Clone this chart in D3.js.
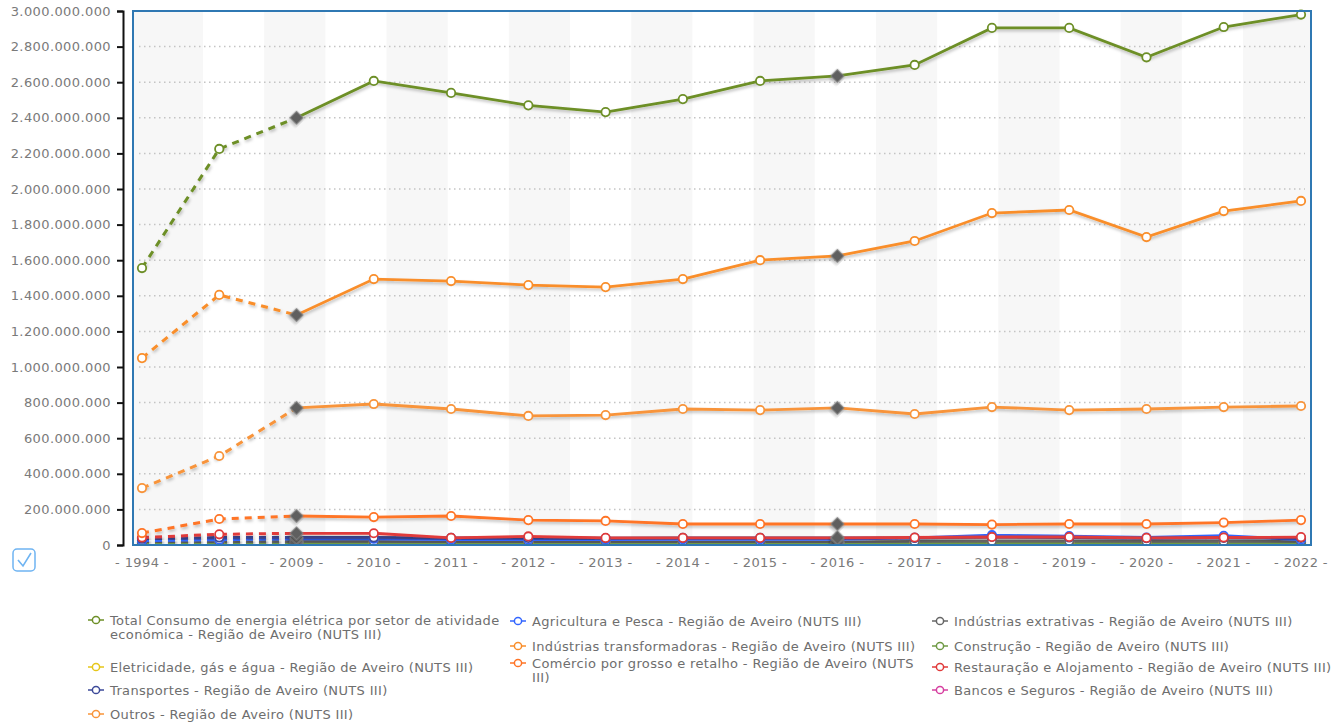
<!DOCTYPE html>
<html><head><meta charset="utf-8">
<script src="https://cdn.jsdelivr.net/npm/d3@7/dist/d3.min.js"></script>
<style>body{margin:0;background:#fff;}svg{display:block;font-family:"DejaVu Sans",Verdana,sans-serif;}</style>
</head><body>
<svg id="c" width="1334" height="725"></svg>
<script>
const years = ["1994","2001","2009","2010","2011","2012","2013","2014","2015","2016","2017","2018","2019","2020","2021","2022"];
const yTicks = [0,200e6,400e6,600e6,800e6,1000e6,1200e6,1400e6,1600e6,1800e6,2000e6,2200e6,2400e6,2600e6,2800e6,3000e6];
const breakYears = ["2009","2016"];

const seriesNames = [
  "Total Consumo de energia elétrica por setor de atividade económica - Região de Aveiro (NUTS III)",
  "Agricultura e Pesca - Região de Aveiro (NUTS III)",
  "Indústrias extrativas - Região de Aveiro (NUTS III)",
  "Indústrias transformadoras - Região de Aveiro (NUTS III)",
  "Construção - Região de Aveiro (NUTS III)",
  "Eletricidade, gás e água - Região de Aveiro (NUTS III)",
  "Comércio por grosso e retalho - Região de Aveiro (NUTS III)",
  "Restauração e Alojamento - Região de Aveiro (NUTS III)",
  "Transportes - Região de Aveiro (NUTS III)",
  "Bancos e Seguros - Região de Aveiro (NUTS III)",
  "Outros - Região de Aveiro (NUTS III)"
];
const seriesColors = ["#6d8f27","#3366ff","#666666","#f98e2b","#6f9a45","#e6c619","#ff7426","#e03a3a","#3d4a99","#d63fa0","#f8943a"];

const total        = [1556,2225,2400,2607,2540,2470,2432,2505,2607,2635,2697,2905,2905,2740,2910,2980];
const agricultura  = [25,30,35,35,30,30,30,32,32,32,40,55,50,42,52,30];
const extrativas   = [15,18,20,20,18,18,18,18,18,18,20,22,22,20,20,20];
const transform    = [1050,1405,1292,1494,1483,1460,1449,1494,1600,1624,1708,1865,1882,1730,1876,1933];
const construcao   = [10,12,14,14,12,12,12,12,12,12,12,13,13,12,12,12];
const eletricidade = [5,6,10,10,10,10,10,10,10,10,10,10,10,10,10,10];
const comercio     = [67,146,163,157,163,140,135,118,118,118,118,115,118,118,126,140];
const restauracao  = [42,60,66,66,40,48,40,40,40,40,42,45,45,40,42,44];
const transportes  = [35,42,42,42,40,40,38,40,40,40,40,45,42,38,40,40];
const bancos       = [12,15,18,18,15,15,15,15,15,15,15,15,15,15,15,15];
const outros       = [320,500,770,792,764,725,730,764,758,770,736,775,758,764,775,781];
const seriesValues = [total,agricultura,extrativas,transform,construcao,eletricidade,comercio,restauracao,transportes,bancos,outros];
const UNIT = 1e6;

const svg = d3.select("#c");
const X0=133, X1=1311, Y0=11, Y1=545;
const x = d3.scalePoint().domain(years).range([X0+9, X1-10]);
const y = d3.scaleLinear().domain([0,3000e6]).range([Y1, Y0]);
const loc = d3.formatLocale({decimal:",",thousands:".",grouping:[3],currency:["","€"]});
const fmt = loc.format(",.0f");

const defs = svg.append("defs");
const f = defs.append("filter").attr("id","sh").attr("x","-20%").attr("y","-20%").attr("width","140%").attr("height","160%");
f.append("feDropShadow").attr("dx",1).attr("dy",2).attr("stdDeviation",1.5).attr("flood-color","#000").attr("flood-opacity",0.25);
defs.append("clipPath").attr("id","clip").append("rect").attr("x",X0).attr("y",Y0-6).attr("width",X1-X0).attr("height",Y1-Y0+6);

// plot background stripes
const pw = X1-X0;
const firstB = 70/1178*pw, lastB = 1110/1178*pw;
const nMid = 17, sw = (lastB-firstB)/nMid;
const bounds = [0, firstB];
for(let i=1;i<=nMid;i++) bounds.push(firstB+i*sw);
bounds.push(pw);
const bg = svg.append("g");
bg.append("rect").attr("x",X0).attr("y",Y0).attr("width",pw).attr("height",Y1-Y0).attr("fill","#fff");
for(let i=0;i<bounds.length-1;i++){
  if(i%2===0) bg.append("rect").attr("x",X0+bounds[i]).attr("y",Y0).attr("width",bounds[i+1]-bounds[i]).attr("height",Y1-Y0).attr("fill","#f7f7f7");
}
// grid
svg.append("g").selectAll("line").data(yTicks.filter(t=>t>0&&t<3000e6)).join("line")
  .attr("x1",X0+6).attr("x2",X1-6).attr("y1",d=>y(d)).attr("y2",d=>y(d))
  .attr("stroke","#c4c4c4").attr("stroke-width",1.5).attr("stroke-dasharray","1.5,3.5");

// y axis
const ya = svg.append("g").attr("transform",`translate(${123},0)`)
  .call(d3.axisLeft(y).tickValues(yTicks).tickFormat(fmt).tickSize(6).tickPadding(6));
ya.select(".domain").attr("stroke","#111").attr("stroke-width",2);
ya.selectAll(".tick line").attr("stroke","#111").attr("stroke-width",2);
ya.selectAll("text").attr("fill","#7a7a7a").attr("font-size",13).attr("letter-spacing",0.4).attr("font-family","DejaVu Sans, Verdana, sans-serif");

// x axis labels
svg.append("g").selectAll("text").data(years).join("text")
  .attr("x",d=>x(d)).attr("y",567).attr("text-anchor","middle").attr("letter-spacing",0.4)
  .attr("fill","#7a7a7a").attr("font-size",13).text(d=>"- "+d+" -");

// lines
const g = svg.append("g").attr("clip-path","url(#clip)");
const line = d3.line().x(d=>x(d.year)).y(d=>y(d.v*UNIT));
const dashIdx = years.indexOf("2009");
const order = [9,5,4,2,1,8,7,6,10,3,0];
order.forEach(si=>{
  const pts = years.map((yr,i)=>({year:yr, v:seriesValues[si][i]}));
  const sg = g.append("g").attr("filter","url(#sh)");
  sg.append("path").datum(pts.slice(0,dashIdx+1)).attr("d",line).attr("fill","none")
    .attr("stroke",seriesColors[si]).attr("stroke-width",3).attr("stroke-dasharray","7,6");
  sg.append("path").datum(pts.slice(dashIdx)).attr("d",line).attr("fill","none")
    .attr("stroke",seriesColors[si]).attr("stroke-width",2.8);
});
order.forEach(si=>{
  const pts = years.map((yr,i)=>({year:yr, v:seriesValues[si][i]}));
  const mg = g.append("g");
  mg.selectAll("circle").data(pts.filter(p=>!breakYears.includes(p.year))).join("circle")
    .attr("cx",d=>x(d.year)).attr("cy",d=>y(d.v*UNIT)).attr("r",4.2)
    .attr("fill","#fff").attr("stroke",seriesColors[si]).attr("stroke-width",1.8);
  mg.selectAll("path").data(pts.filter(p=>breakYears.includes(p.year))).join("path")
    .attr("d",d3.symbol(d3.symbolSquare,90))
    .attr("transform",d=>`translate(${x(d.year)},${y(d.v*UNIT)}) rotate(45)`)
    .attr("fill","#5f5f5f").attr("stroke","#8a8a8a").attr("stroke-width",0.8).attr("filter","url(#sh)");
});

// plot border
svg.append("rect").attr("x",X0).attr("y",Y0).attr("width",pw).attr("height",Y1-Y0)
  .attr("fill","none").attr("stroke","#2f78b3").attr("stroke-width",2);

// checkbox
svg.append("rect").attr("x",13).attr("y",549).attr("width",22).attr("height",22).attr("rx",4)
  .attr("fill","#fff").attr("stroke","#6fb4f2").attr("stroke-width",1.5);
svg.append("path").attr("d","M18,560 L23,566 L31,553").attr("fill","none").attr("stroke","#6fb4f2").attr("stroke-width",1.6);

// legend
const legendCols = [[0,5,8,10],[1,3,6],[2,4,7,9]];
const legendRowY = [[620,667,690,714],[621,646,663],[621,646,667,690]];
const colX = [96,518,940];
const wrapW = 390;
const lg = svg.append("g").attr("font-size",13).attr("letter-spacing",0.35).attr("fill","#6e6e6e");
const measure = lg.append("text").attr("visibility","hidden");
function wrap(str){
  const words = str.split(" "); const lines=[]; let cur="";
  words.forEach(w=>{
    const t = cur? cur+" "+w : w;
    measure.text(t);
    if(measure.node().getComputedTextLength()>wrapW && cur){ lines.push(cur); cur=w; } else cur=t;
  });
  if(cur) lines.push(cur);
  return lines;
}
const lineH = 14.5;
legendCols.forEach((col,ci)=>{
  col.forEach((si,ri)=>{
    const yy = legendRowY[ci][ri];
    const lines = (ci===2)? [seriesNames[si]] : wrap(seriesNames[si]);
    const c = seriesColors[si];
    lg.append("line").attr("x1",colX[ci]-8).attr("x2",colX[ci]+8).attr("y1",yy).attr("y2",yy).attr("stroke",c).attr("stroke-width",1.5);
    lg.append("circle").attr("cx",colX[ci]).attr("cy",yy).attr("r",3.6).attr("fill","#fff").attr("stroke",c).attr("stroke-width",1.5);
    const t = lg.append("text").attr("x",colX[ci]+14).attr("y",yy+4.5);
    lines.forEach((l,li)=>t.append("tspan").attr("x",colX[ci]+14).attr("dy",li?lineH:0).text(l));
  });
});
measure.remove();
</script>
</body></html>
